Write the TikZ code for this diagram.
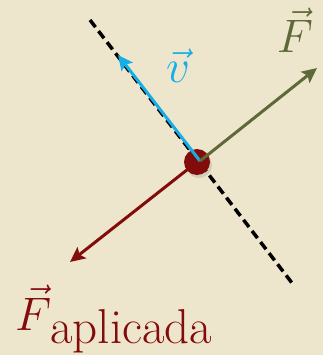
\documentclass[tikz,border=0pt]{standalone}
\usepackage{fix-cm}
\usetikzlibrary{arrows.meta,shadows}
\definecolor{parch}{RGB}{238,230,204}
\definecolor{vblue}{RGB}{22,174,230}
\definecolor{folive}{RGB}{94,104,56}
\definecolor{fred}{RGB}{130,12,12}
\tikzset{
  vec/.style={line width=3pt,-{Stealth[length=15pt,width=14pt,inset=3pt]}},
  lbl/.style={inner sep=0pt,font=\fontsize{47}{47}\selectfont},
}
\begin{document}
\begin{tikzpicture}[x=1pt,y=-1pt]
\fill[parch] (0,0) rectangle (323,355);
\useasboundingbox (0,0) rectangle (323,355);
\coordinate (D1) at (90,20);
\coordinate (D2) at (292,283);
\coordinate (O) at (200,161);
\coordinate (Oc) at (197,162);
\coordinate (vtip) at (118,55);
\coordinate (Ftip) at (317,68);
\coordinate (Atip) at (70,262);
\draw[line width=3.5pt,dash pattern=on 9pt off 5pt] (D1) -- (D2);
\draw[vec,fred] (Oc) -- (Atip);
\node[circle,fill=fred,minimum size=26pt,inner sep=0pt,
  drop shadow={opacity=0.25,shadow xshift=2pt,shadow yshift=-3pt}] (dot) at (Oc) {};
\draw[vec,vblue] (O) -- (vtip);
\draw[vec,folive] (O) -- (Ftip);
\node[lbl,text=vblue,anchor=base] (vl) at (178,83) {$\vec{v}$};
\node[lbl,text=folive,anchor=base] (Fl) at (295,53) {$\vec{F}$};
\node[lbl,text=fred,anchor=base west] (Fa) at (15,330)
  {$\vec{F}$\kern-1pt\lower13pt\hbox{\fontsize{49}{49}\selectfont aplicada}};
\end{tikzpicture}
\end{document}
